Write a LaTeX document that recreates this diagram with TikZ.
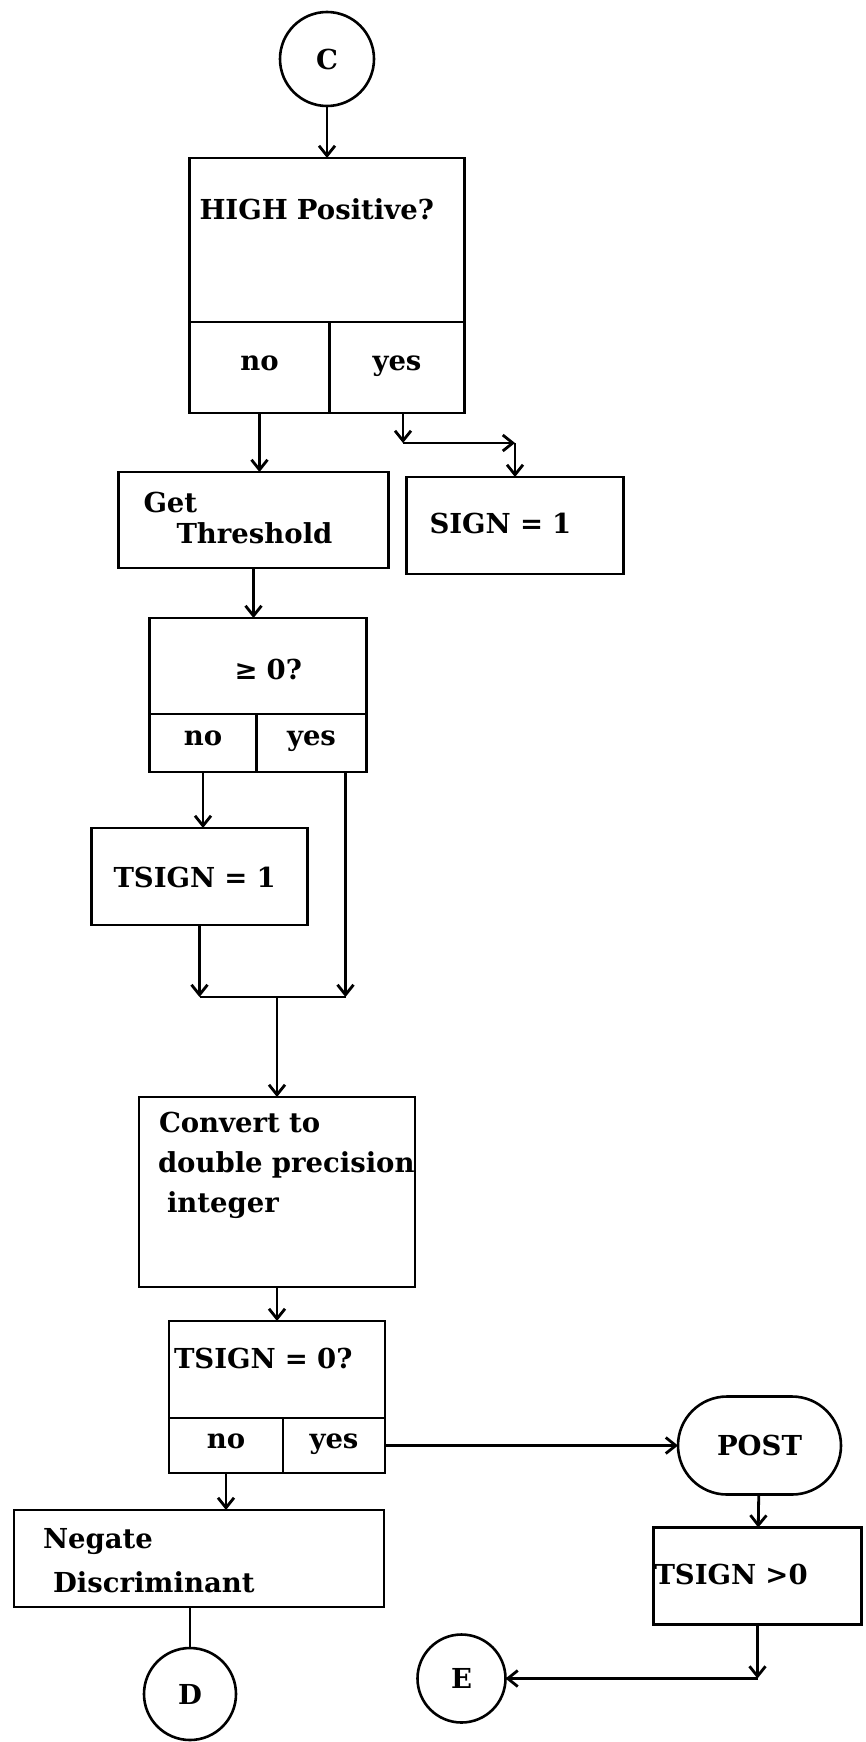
\documentclass[tikz,border=0pt]{standalone}
\usepackage{fontspec}
\setmainfont{DejaVu Serif}
\usetikzlibrary{arrows.meta, positioning}

\begin{document}
\begin{tikzpicture}[
    node distance=40pt,
    base/.style={font=\bfseries\fontsize{27.5}{31}\selectfont, outer sep=0pt, line width=2.6pt},
    conn/.style={base, circle, draw, minimum size=92pt, inner sep=0pt},
    fbox/.style={base, rectangle, draw, inner ysep=0pt, align=left},
    cell/.style={base, rectangle, draw, inner sep=0pt, text height=1.5ex, text depth=0.5ex},
    term/.style={base, rectangle, draw, rounded corners=49pt, minimum width=163pt, minimum height=98pt, inner sep=0pt},
    arr/.style={-{Straight Barb[length=10pt, width=16pt]}, line width=2.8pt},
    link/.style={line width=2.8pt}
]
\useasboundingbox (0,0) rectangle (865pt,-1742pt);

% entry and first test
\node[conn, minimum size=94pt] (C) at (327pt,-59pt) {C};
\node[fbox, below=52pt of C, inner xsep=10pt, text width=255pt, text height=61pt, text depth=103pt] (high) {HIGH Positive?};
\node[cell, minimum width=140pt, minimum height=91pt, below right=0pt and 0pt of high.south west] (highno) {no};
\node[cell, minimum width=135pt, minimum height=91pt, below left=0pt and 0pt of high.south east] (highyes) {yes};

\node[fbox, below=59pt of highno, xshift=-6pt, inner xsep=25pt, text width=220pt, text height=40pt, text depth=56pt] (thresh) {Get\\\hspace*{33pt}Threshold};
\coordinate[below=30pt of highyes, xshift=6pt] (hy1);
\node[fbox, below right=64pt and -58pt of highyes.south east, inner xsep=23pt, text width=171pt, text height=56pt, text depth=41pt] (sign) {SIGN = 1};

% threshold sign
\node[fbox, below=50pt of thresh, xshift=4.5pt, inner xsep=20pt, text width=177pt, text height=61pt, text depth=35pt] (ge) {\hspace*{65pt}≥ 0?};
\node[cell, minimum width=107pt, minimum height=58pt, below right=0pt and 0pt of ge.south west] (geno) {no};
\node[cell, minimum width=110pt, minimum height=58pt, below left=0pt and 0pt of ge.south east] (geyes) {yes};
\node[fbox, below=56pt of geno, xshift=-3.5pt, inner xsep=22pt, text width=172pt, text height=59pt, text depth=38pt] (tsign1) {TSIGN = 1};
\coordinate[below=72pt of tsign1] (m1);
\coordinate[right=146pt of m1] (m2);

\node[fbox, below=100pt of m1, xshift=77.5pt, inner xsep=19pt, text width=238pt, text height=35pt, text depth=155pt] (conv) {\hspace*{1pt}Convert to\\[9pt]\mbox{double precision}\\[9pt]\hspace*{9pt}integer};

% second test
\node[fbox, below=34pt of conv, inner xsep=5pt, text width=206pt, text height=47pt, text depth=50pt] (tsign0) {TSIGN = 0?};
\node[cell, minimum width=114pt, minimum height=55pt, below right=0pt and 0pt of tsign0.south west] (t0no) {no};
\node[cell, minimum width=102pt, minimum height=55pt, below left=0pt and 0pt of tsign0.south east] (t0yes) {yes};
\node[fbox, below=37pt of t0no, xshift=-27pt, inner xsep=29pt, text width=312pt, text height=38pt, text depth=59pt] (neg) {Negate\\[13pt]\hspace*{10pt}Discriminant};
\node[conn, below=41pt of neg, xshift=-9pt] (D) {D};

\node[term, right=293pt of t0yes] (post) {POST};
\node[fbox, below=33pt of post, xshift=-2pt, inner xsep=1pt, text width=206pt, text height=57pt, text depth=40pt] (tpos) {TSIGN >0};
\coordinate[below=54pt of tpos] (tc);
\node[conn, minimum size=88pt, left=252pt of tc] (E) {E};

\draw[arr] (C) -- (high);
\draw[arr] (highno.south) -- (highno.south |- thresh.north);
\draw[arr] (hy1 |- highyes.south) -- (hy1);
\draw[arr] (hy1) -- (hy1 -| sign.north);
\draw[arr] (hy1 -| sign.north) -- (sign.north);
\draw[arr] (thresh.south) -- (thresh.south |- ge.north);
\draw[arr] (geno.south) -- (geno.south |- tsign1.north);
\draw[arr] (tsign1.south) -- (m1);
\draw[arr] (m2 |- geyes.south) -- (m2);
\draw[link] (m1) -- (m2);
\draw[arr] (m1 -| conv.north) -- (conv.north);
\draw[arr] (conv.south) -- (tsign0.north);
\draw[arr] (t0no.south) -- (t0no.south |- neg.north);
\draw[link] (D.north) -- (D.north |- neg.south);
\draw[arr] (t0yes.east) -- (post.west);
\draw[arr] (post) -- (tpos);
\draw[arr] (tpos.south) -- (tc);
\draw[arr] (tc) -- (E.east);

\end{tikzpicture}
\end{document}
